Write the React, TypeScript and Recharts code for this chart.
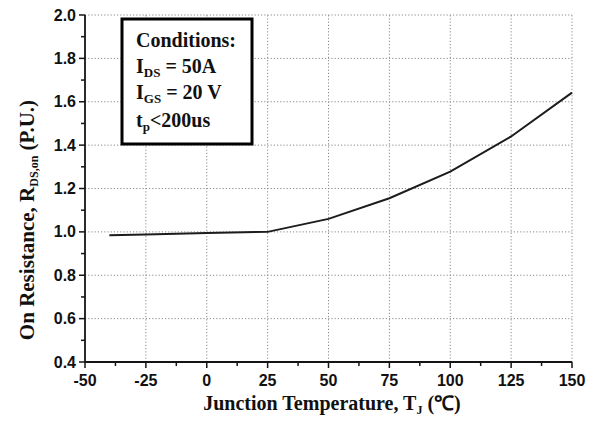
import React from 'react';
import { LineChart, Line, XAxis, YAxis, ReferenceLine } from 'recharts';

const temperatures = [-40, -25, 0, 25, 50, 75, 100, 125, 150];
const resistance = [0.985, 0.988, 0.995, 1.0, 1.06, 1.155, 1.278, 1.44, 1.642];

const xMajorTicks = [-50, -25, 0, 25, 50, 75, 100, 125, 150];
const xMinorTicks = [-37.5, -12.5, 12.5, 37.5, 62.5, 87.5, 112.5, 137.5];
const yMajorTicks = [0.4, 0.6, 0.8, 1.0, 1.2, 1.4, 1.6, 1.8, 2.0];
const yMinorTicks = [0.5, 0.7, 0.9, 1.1, 1.3, 1.5, 1.7, 1.9];

const xGrid = [-25, 0, 25, 50, 75, 100, 125, 150];
const yGrid = [0.6, 0.8, 1.0, 1.2, 1.4, 1.6, 1.8, 2.0];

const data = temperatures.map((t, i) => ({ t, r: resistance[i] }));

const isMajor = (list: number[], v: number) => list.some((m) => Math.abs(m - v) < 1e-6);

const AXIS_COLOR = '#151515';
const TICK_FONT = '"Liberation Sans", Arial, sans-serif';
const SERIF = '"Liberation Serif", "Times New Roman", serif';

const XTick = (props: any) => {
  const { x, y, payload } = props;
  const major = isMajor(xMajorTicks, payload.value);
  return (
    <g>
      <line x1={x} x2={x} y1={y} y2={y + (major ? 6 : 4)} stroke={AXIS_COLOR} strokeWidth={1.5} />
      {major && (
        <text x={x} y={y + 24} textAnchor="middle" fontFamily={TICK_FONT} fontWeight="bold" fontSize={16} fill="#111">
          {payload.value}
        </text>
      )}
    </g>
  );
};

const YTick = (props: any) => {
  const { x, y, payload } = props;
  const major = isMajor(yMajorTicks, payload.value);
  return (
    <g>
      <line x1={x - (major ? 6 : 4)} x2={x} y1={y} y2={y} stroke={AXIS_COLOR} strokeWidth={1.5} />
      {major && (
        <text x={x - 9} y={y + 5.5} textAnchor="end" fontFamily={TICK_FONT} fontWeight="bold" fontSize={16} fill="#111">
          {Number(payload.value).toFixed(1)}
        </text>
      )}
    </g>
  );
};

export default function App() {
  return (
    <div style={{ position: 'absolute', left: 0, top: 0, width: 599, height: 421, background: '#fff' }}>
      <LineChart width={599} height={421} data={data} margin={{ top: 15, right: 27, bottom: 0, left: 0 }}>
        {xGrid.map((v) => (
          <ReferenceLine key={'gx' + v} x={v} stroke="#8a8a8a" strokeWidth={1} strokeDasharray="1.2 2" ifOverflow="extendDomain" />
        ))}
        {yGrid.map((v) => (
          <ReferenceLine key={'gy' + v} y={v} stroke="#8a8a8a" strokeWidth={1} strokeDasharray="1.2 2" ifOverflow="extendDomain" />
        ))}
        <XAxis
          dataKey="t"
          type="number"
          domain={[-50, 150]}
          ticks={[...xMajorTicks, ...xMinorTicks].sort((a, b) => a - b)}
          interval={0}
          height={59}
          tickSize={0}
          tickMargin={0}
          tickLine={false}
          axisLine={{ stroke: AXIS_COLOR, strokeWidth: 1.8 }}
          tick={<XTick />}
        />
        <YAxis
          dataKey="r"
          type="number"
          domain={[0.4, 2.0]}
          ticks={[...yMajorTicks, ...yMinorTicks].sort((a, b) => a - b)}
          interval={0}
          width={85}
          tickSize={0}
          tickMargin={0}
          tickLine={false}
          axisLine={{ stroke: AXIS_COLOR, strokeWidth: 1.8 }}
          tick={<YTick />}
        />
        <Line
          type="linear"
          dataKey="r"
          stroke="#1c1c1c"
          strokeWidth={2}
          dot={false}
          isAnimationActive={false}
        />
      </LineChart>
      <svg width={599} height={421} style={{ position: 'absolute', left: 0, top: 0, pointerEvents: 'none' }}>
        <rect x={122} y={19} width={130} height={125} fill="#fff" stroke="#000" strokeWidth={3} />
        <g fontFamily={SERIF} fontWeight="bold" fontSize={20} fill="#111">
          <text x={136} y={47}>Conditions:</text>
          <text x={136} y={73}>
            I<tspan fontSize={13} dy={4}>DS</tspan>
            <tspan dy={-4}> = 50A</tspan>
          </text>
          <text x={136} y={99}>
            I<tspan fontSize={13} dy={4}>GS</tspan>
            <tspan dy={-4}> = 20 V</tspan>
          </text>
          <text x={136} y={127}>
            t<tspan fontSize={13} dy={4}>p</tspan>
            <tspan dy={-4}>&lt;200us</tspan>
          </text>
        </g>
        <text x={332} y={410} textAnchor="middle" fontFamily={SERIF} fontWeight="bold" fontSize={20} fill="#111">
          Junction Temperature, T<tspan fontSize={12} dy={4}>J</tspan>
          <tspan dy={-4}> (℃)</tspan>
        </text>
        <text
          transform="translate(34, 220) rotate(-90)"
          textAnchor="middle"
          fontFamily={SERIF}
          fontWeight="bold"
          fontSize={21}
          fill="#111"
        >
          On Resistance, R<tspan fontSize={12} dy={4}>DS,on</tspan>
          <tspan dy={-4}> (P.U.)</tspan>
        </text>
      </svg>
    </div>
  );
}
